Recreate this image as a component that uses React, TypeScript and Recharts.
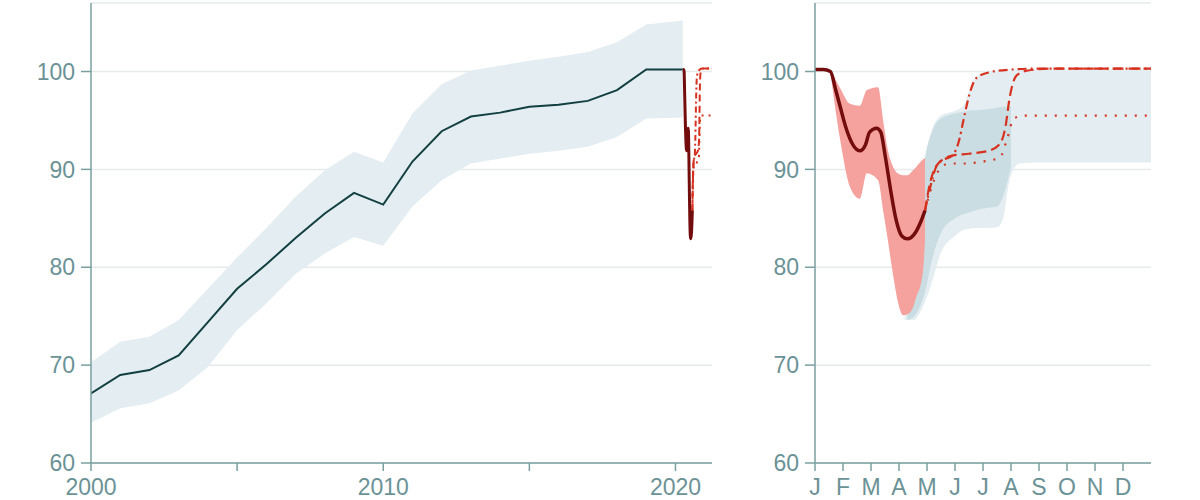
import React from 'react';
import { ComposedChart, Line, Area, XAxis, YAxis, CartesianGrid } from 'recharts';

// ---------- Left panel: annual index ----------
const years = [2000, 2001, 2002, 2003, 2004, 2005, 2006, 2007, 2008, 2009, 2010, 2011, 2012, 2013, 2014, 2015, 2016, 2017, 2018, 2019, 2020.25];
const trendValues = [67.1, 69.0, 69.5, 71.0, 74.4, 77.8, 80.3, 83.0, 85.5, 87.6, 86.4, 90.8, 93.9, 95.4, 95.8, 96.4, 96.6, 97.0, 98.1, 100.2, 100.2];
const trendLow = [64.1, 65.6, 66.1, 67.4, 69.8, 73.6, 76.3, 79.3, 81.4, 83.1, 82.2, 86.2, 88.9, 90.6, 91.1, 91.6, 91.9, 92.3, 93.3, 95.2, 95.3];
const trendHigh = [70.3, 72.4, 72.9, 74.6, 77.8, 81.0, 84.0, 87.2, 89.9, 91.8, 90.7, 95.7, 98.7, 100.1, 100.6, 101.1, 101.5, 102.0, 103.0, 104.8, 105.2];
const yearTicks = [2000, 2005, 2010, 2015, 2020];
const labelledYears = [2000, 2010, 2020];
const monthStartYear = 2020.25;

// ---------- Right panel: monthly 2020 ----------
const monthLabels = ['J', 'F', 'M', 'A', 'M', 'J', 'J', 'A', 'S', 'O', 'N', 'D'];
const monthTicks = [0, 1, 2, 3, 4, 5, 6, 7, 8, 9, 10, 11];
const yTicks = [60, 70, 80, 90, 100];

const obsMonths = [0, 0.3, 0.55, 0.75, 0.9, 1.1, 1.3, 1.6, 1.8, 1.95, 2.2, 2.35, 2.5, 2.7, 2.9, 3.1, 3.3, 3.6, 3.8, 3.93];
const obsValues = [100.2, 100.2, 100.0, 98.0, 96.4, 94.3, 92.8, 91.9, 92.5, 93.8, 94.2, 93.8, 91.5, 87.9, 84.8, 83.2, 82.9, 83.6, 84.8, 85.8];

const obsBandMonths = [0.55, 0.9, 1.25, 1.6, 1.85, 2.25, 2.45, 2.6, 2.8, 2.95, 3.15, 3.3, 3.5, 3.6, 3.85, 3.93];
const obsBandLow = [99.9, 93.0, 88.2, 87.0, 89.6, 88.9, 85.5, 82.8, 79.0, 76.6, 75.1, 75.2, 75.9, 76.8, 79.4, 82.8];
const obsBandHigh = [100.2, 98.3, 96.7, 96.5, 98.1, 98.4, 94.7, 92.0, 90.2, 89.6, 89.4, 89.4, 89.9, 90.2, 91.0, 91.2];

const outerMonths = [3.2, 3.5, 3.93, 4.2, 4.5, 5.0, 5.3, 5.5, 5.7, 6.0, 6.5, 6.7, 6.95, 7.3, 8.0, 12];
const outerLow = [74.6, 74.6, 76.5, 78.7, 81.5, 83.2, 83.8, 83.9, 84.0, 84.0, 84.1, 84.8, 88.9, 90.6, 90.7, 90.7];
const outerHigh = [75.5, 80.0, 91.2, 94.2, 95.5, 96.0, 96.5, 98.0, 99.3, 99.8, 100.1, 100.2, 100.2, 100.2, 100.2, 100.2];

const innerMonths = [3.3, 3.6, 3.93, 4.2, 4.5, 5.0, 5.5, 6.0, 6.5, 6.7, 6.85, 7.0];
const innerLow = [74.6, 75.2, 77.5, 81.0, 83.5, 85.0, 85.6, 86.0, 86.2, 87.1, 88.5, 90.2];
const innerHigh = [75.5, 84.0, 91.2, 94.0, 95.2, 95.7, 96.0, 96.1, 96.3, 96.4, 96.4, 96.4];

const fastMonths = [3.93, 4.1, 4.35, 4.6, 4.9, 5.15, 5.3, 5.5, 5.75, 6.2, 7.0, 8.0, 12];
const fastValues = [85.8, 88.0, 90.4, 91.0, 91.4, 93.0, 95.0, 97.5, 99.3, 99.9, 100.2, 100.3, 100.3];

const slowMonths = [3.93, 4.1, 4.4, 4.9, 5.5, 6.2, 6.6, 6.8, 6.95, 7.2, 7.6, 8.5, 12];
const slowValues = [85.8, 88.5, 90.6, 91.4, 91.6, 91.9, 92.6, 94.3, 97.3, 99.6, 100.1, 100.3, 100.3];

const permMonths = [3.93, 4.2, 4.5, 4.8, 5.3, 6.0, 6.6, 6.85, 7.1, 7.5, 12];
const permValues = [85.8, 88.5, 90.2, 90.6, 90.6, 90.8, 91.2, 93.0, 95.2, 95.5, 95.5];

// ---------- styles ----------
const AXIS = '#7a9fa1';
const TEXT = '#6b9296';
const GRID = '#e6eaeb';
const BAND_LIGHT = '#e4edf1';
const BAND_DARK = '#c9dde3';
const RED_BAND = '#f5a29e';
const DARK_RED = '#730d0d';
const RED = '#d7321f';
const TREND = '#123f40';
const FONT = '"Liberation Sans", Arial, sans-serif';

const toSeries = (xs: number[], ys: number[]) => xs.map((x, i) => ({ x, v: ys[i] }));
const toBand = (xs: number[], lo: number[], hi: number[]) => xs.map((x, i) => ({ x, band: [lo[i], hi[i]] }));
const toYears = (xs: number[]) => xs.map((m) => monthStartYear + m / 12);

const tickStyle = { fill: TEXT, fontSize: 23, fontFamily: FONT };

function LeftChart() {
  return (
    <ComposedChart width={720} height={500} margin={{ top: 3, right: 8, bottom: 0, left: 0 }}>
      <CartesianGrid horizontal vertical={false} stroke={GRID} strokeWidth={1.5} />
      <XAxis
        type="number"
        dataKey="x"
        domain={[2000, 2021.25]}
        allowDataOverflow
        ticks={yearTicks}
        tickFormatter={(v: number) => (labelledYears.includes(v) ? String(v) : '')}
        height={37}
        tickSize={8}
        tickMargin={8}
        axisLine={{ stroke: AXIS, strokeWidth: 1.5 }}
        tickLine={{ stroke: AXIS, strokeWidth: 1.5 }}
        tick={tickStyle}
      />
      <YAxis
        type="number"
        domain={[60, 107]}
        allowDataOverflow
        ticks={yTicks}
        width={91}
        tickSize={10}
        tickMargin={6}
        axisLine={{ stroke: AXIS, strokeWidth: 1.5 }}
        tickLine={{ stroke: AXIS, strokeWidth: 1.5 }}
        tick={tickStyle}
      />
      <Area data={toBand(years, trendLow, trendHigh)} dataKey="band" type="linear" stroke="none" fill={BAND_LIGHT} fillOpacity={1} isAnimationActive={false} />
      <Line data={toSeries(years, trendValues)} dataKey="v" type="linear" stroke={TREND} strokeWidth={2} dot={false} isAnimationActive={false} />
      <Line data={toSeries(toYears(fastMonths), fastValues)} dataKey="v" type="monotone" stroke={RED} strokeWidth={2} strokeDasharray="6 3 2 3" dot={false} isAnimationActive={false} />
      <Line data={toSeries(toYears(slowMonths), slowValues)} dataKey="v" type="monotone" stroke={RED} strokeWidth={2} strokeDasharray="7 4" dot={false} isAnimationActive={false} />
      <Line data={toSeries(toYears(permMonths), permValues)} dataKey="v" type="monotone" stroke={RED} strokeWidth={2} strokeDasharray="2 5" dot={false} isAnimationActive={false} />
      <Line data={toSeries(toYears(obsMonths), obsValues)} dataKey="v" type="monotone" stroke={DARK_RED} strokeWidth={3} dot={false} isAnimationActive={false} />
    </ComposedChart>
  );
}

function RightChart() {
  return (
    <ComposedChart width={480} height={500} margin={{ top: 3, right: 49, bottom: 0, left: 0 }}>
      <CartesianGrid horizontal vertical={false} stroke={GRID} strokeWidth={1.5} />
      <XAxis
        type="number"
        dataKey="x"
        domain={[0, 12]}
        allowDataOverflow
        ticks={monthTicks}
        tickFormatter={(v: number) => monthLabels[v] ?? ''}
        height={37}
        tickSize={8}
        tickMargin={8}
        axisLine={{ stroke: AXIS, strokeWidth: 1.5 }}
        tickLine={{ stroke: AXIS, strokeWidth: 1.5 }}
        tick={tickStyle}
        interval={0}
      />
      <YAxis
        type="number"
        domain={[60, 107]}
        allowDataOverflow
        ticks={yTicks}
        width={95}
        tickSize={10}
        tickMargin={6}
        axisLine={{ stroke: AXIS, strokeWidth: 1.5 }}
        tickLine={{ stroke: AXIS, strokeWidth: 1.5 }}
        tick={tickStyle}
      />
      <Area data={toBand(outerMonths, outerLow, outerHigh)} dataKey="band" type="monotone" stroke="none" fill={BAND_LIGHT} fillOpacity={1} isAnimationActive={false} />
      <Area data={toBand(innerMonths, innerLow, innerHigh)} dataKey="band" type="monotone" stroke="none" fill={BAND_DARK} fillOpacity={1} isAnimationActive={false} />
      <Area data={toBand(obsBandMonths, obsBandLow, obsBandHigh)} dataKey="band" type="monotone" stroke="none" fill={RED_BAND} fillOpacity={1} isAnimationActive={false} />
      <Line data={toSeries(fastMonths, fastValues)} dataKey="v" type="monotone" stroke={RED} strokeWidth={2.2} strokeDasharray="9 4 2 4" dot={false} isAnimationActive={false} />
      <Line data={toSeries(slowMonths, slowValues)} dataKey="v" type="monotone" stroke={RED} strokeWidth={2.2} strokeDasharray="10 5" dot={false} isAnimationActive={false} />
      <Line data={toSeries(permMonths, permValues)} dataKey="v" type="monotone" stroke={RED} strokeWidth={2.2} strokeDasharray="2 8" dot={false} isAnimationActive={false} />
      <Line data={toSeries(obsMonths, obsValues)} dataKey="v" type="monotone" stroke={DARK_RED} strokeWidth={3.5} dot={false} isAnimationActive={false} />
    </ComposedChart>
  );
}

export default function App() {
  return (
    <div style={{ position: 'absolute', left: 0, top: 0, width: 1200, height: 500, background: '#fff' }}>
      <div style={{ position: 'absolute', left: 0, top: 0 }}>
        <LeftChart />
      </div>
      <div style={{ position: 'absolute', left: 720, top: 0 }}>
        <RightChart />
      </div>
    </div>
  );
}
